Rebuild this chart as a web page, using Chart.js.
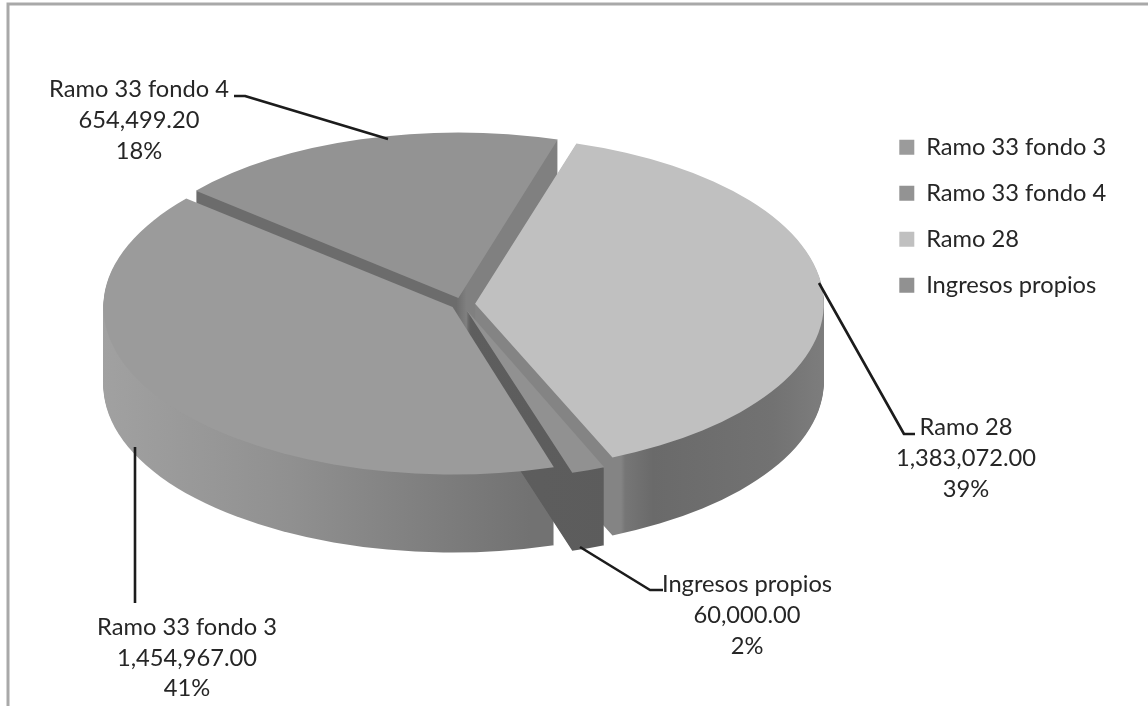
<!DOCTYPE html>
<html>
<head>
<meta charset="utf-8">
<style>html,body{margin:0;padding:0;background:#fff;overflow:hidden}canvas{display:block}</style>
<script src="https://cdn.jsdelivr.net/npm/chart.js@4/dist/chart.umd.min.js"></script>
</head>
<body>
<canvas id="c" width="1148" height="706"></canvas>
<script>
const categories = ["Ramo 33 fondo 3", "Ramo 33 fondo 4", "Ramo 28", "Ingresos propios"];
const values = [1454967.00, 654499.20, 1383072.00, 60000.00];
const explode = [43, 49, 50, 50];
const topColors = ["#9b9b9b", "#939393", "#c0c0c0", "#919191"];

const FONT = '23.7px Lato, "Open Sans", sans-serif';
const CX = 462, CY = 304, RX = 344, RY = 165, DEPTH = 78;
const sideStops = [
  [[100,"#a2a2a2"],[300,"#909090"],[540,"#727272"]],
  [[230,"#6c6c6c"],[460,"#6c6c6c"],[470,"#808080"],[560,"#808080"]],
  [[470,"#848484"],[608,"#848484"],[612,"#767676"],[640,"#6a6a6a"],[760,"#727272"],[825,"#808080"]],
  [[460,"#5e5e5e"],[610,"#5c5c5c"]]
];
const drawOrder = [1, 0, 2, 3];
const calloutLayout = [
  {x:187, y:[627,658,688], line:[[135,447],[135,603]]},
  {x:139, y:[89,120,151], line:[[234,96],[245,96],[388,139]]},
  {x:966, y:[427,458,489], line:[[915,434],[904,434],[819,283]]},
  {x:747, y:[584,615,646], line:[[663,590],[650,590],[580,547]]}
];

const total = values.reduce((a,b)=>a+b,0);
const fmt = v => v.toLocaleString("en-US",{minimumFractionDigits:2,maximumFractionDigits:2});

const pie3d = {
  id:"pie3d",
  afterLayout(chart){
    const l = chart.legend;
    const w = l.width, h = l.height;
    l.left = 877; l.right = 877 + w; l.top = 113; l.bottom = 113 + h;
  },
  beforeDraw(chart){
    const c = chart.ctx;
    c.save();
    c.strokeStyle = "#a9a9a9"; c.lineWidth = 3;
    c.beginPath(); c.moveTo(8,706); c.lineTo(8,4); c.lineTo(1148,4); c.stroke();
    c.restore();
  },
  beforeDatasetsDraw(chart){
    const c = chart.ctx, arcs = chart.getDatasetMeta(0).data;
    const R = arcs[0].outerRadius, ox = arcs[0].x, oy = arcs[0].y;
    const sx = RX/R, sy = RY/R;
    const setT = d => { c.setTransform(sx,0,0,sy,CX-ox*sx,CY+d-oy*sy); };
    c.save();
    drawOrder.forEach(i=>{
      const arc = arcs[i];
      setT(0);
      const stops = sideStops[i];
      const x0 = (stops[0][0]-CX)/sx+ox, x1 = (stops[stops.length-1][0]-CX)/sx+ox;
      const g = c.createLinearGradient(x0,0,x1,0);
      stops.forEach(s=>g.addColorStop((s[0]-stops[0][0])/(stops[stops.length-1][0]-stops[0][0]),s[1]));
      const clone = Object.create(arc);
      clone.options = Object.assign({},{offset:arc.options.offset,spacing:0,borderWidth:0,borderRadius:0,borderColor:"transparent",borderAlign:"center",borderJoinStyle:"round",circular:true,backgroundColor:g});
      for(let d=DEPTH;d>=1;d--){ setT(d); clone.draw(c); }
    });
    setT(0);
    drawOrder.forEach(i=>arcs[i].draw(c));
    c.restore();
    return false;
  },
  afterDraw(chart){
    const c = chart.ctx;
    c.save();
    c.strokeStyle = "#1c1c1c"; c.lineWidth = 2.6; c.lineJoin = "round";
    calloutLayout.forEach(o=>{
      c.beginPath();
      o.line.forEach((p,k)=>k?c.lineTo(p[0],p[1]):c.moveTo(p[0],p[1]));
      c.stroke();
    });
    c.fillStyle = "#262626"; c.font = FONT; c.textAlign = "center"; c.textBaseline = "middle";
    calloutLayout.forEach((o,i)=>{
      const lines = [categories[i], fmt(values[i]), Math.round(values[i]/total*100)+"%"];
      lines.forEach((t,k)=>c.fillText(t,o.x,o.y[k]));
    });
    c.restore();
  }
};

new Chart(document.getElementById("c"),{
  type:"pie",
  data:{labels:categories,datasets:[{data:values,backgroundColor:topColors,borderWidth:0,offset:explode}]},
  options:{
    responsive:false,animation:false,
    rotation:163,
    layout:{padding:0},
    plugins:{
      tooltip:{enabled:false},
      legend:{
        position:"right",align:"start",
        labels:{boxWidth:15,boxHeight:15,padding:22.3,color:"#262626",font:{family:'Lato, "Open Sans", sans-serif',size:23.7}}
      }
    }
  },
  plugins:[pie3d]
});
</script>
</body>
</html>
